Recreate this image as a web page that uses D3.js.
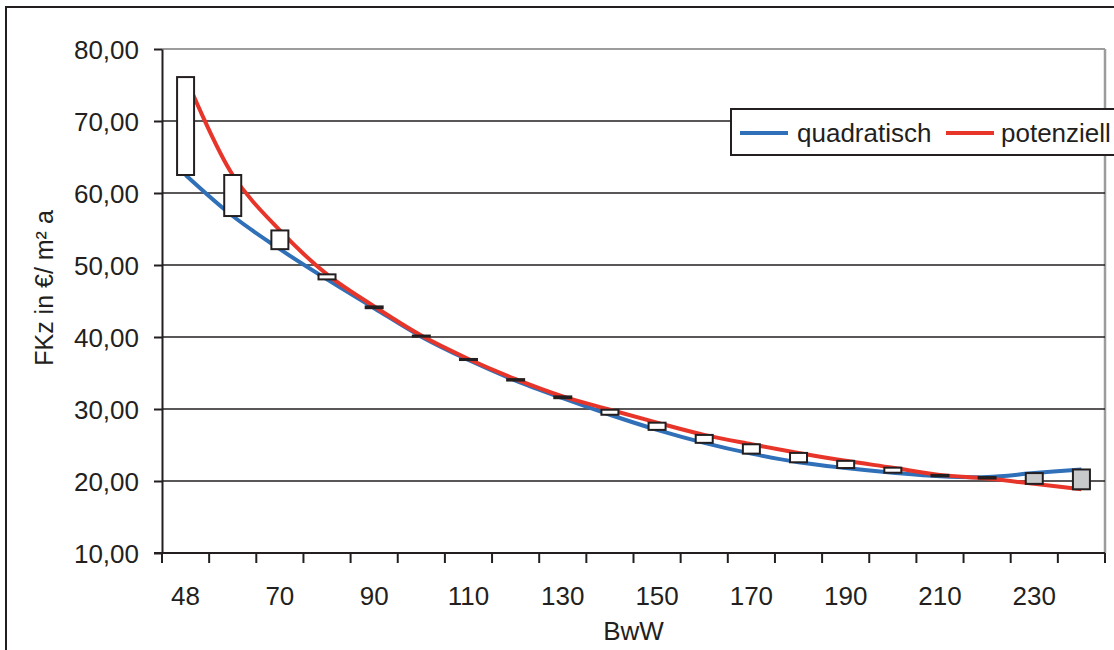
<!DOCTYPE html>
<html>
<head>
<meta charset="utf-8">
<script src="https://cdn.jsdelivr.net/npm/d3@7"></script>
<style>
  html, body { margin: 0; padding: 0; background: #fff; }
  svg { display: block; font-family: "Liberation Sans", Arial, sans-serif; }
</style>
</head>
<body>
<svg id="chart" width="1114" height="650"></svg>
<script>
// Baualterswert-Kategorien (BwW) auf der Kategorienachse
const categories = [48, 60, 70, 80, 90, 100, 110, 120, 130, 140, 150, 160, 170, 180, 190, 200, 210, 220, 230, 240];
// Ausgleichswerte je Kategorie: quadratischer Ansatz
const quadratisch = [62.5, 56.8, 52.2, 48.0, 44.0, 40.05, 36.8, 33.95, 31.5, 29.2, 27.1, 25.3, 23.8, 22.6, 21.8, 21.15, 20.65, 20.55, 21.1, 21.6];
// Ausgleichswerte je Kategorie: Potenzansatz
const potenziell = [76.1, 62.5, 54.8, 48.7, 44.25, 40.2, 36.95, 34.15, 31.75, 29.9, 28.1, 26.4, 25.1, 23.9, 22.8, 21.85, 20.85, 20.35, 19.6, 18.85];
// Achsenbeschriftungen
const yTicks = [10, 20, 30, 40, 50, 60, 70, 80];
const xTickLabels = [48, 70, 90, 110, 130, 150, 170, 190, 210, 230];
const seriesNames = ["quadratisch", "potenziell"];

const ink = "#231f20";
const blue = "#2f70b8";
const red = "#e8352a";
const frameGray = "#9c9c9c";

const svg = d3.select("#chart");
const plot = { left: 162, right: 1105, top: 49, bottom: 553 };

const locale = d3.formatLocale({ decimal: ",", thousands: ".", grouping: [3], currency: ["", " €"] });
const fmt = locale.format(".2f");

const x = d3.scaleBand().domain(categories).range([plot.left, plot.right]).padding(0);
const y = d3.scaleLinear().domain([10, 80]).range([plot.bottom, plot.top]);
const cx = d => x(d) + x.bandwidth() / 2;

// äußerer Diagrammrahmen
svg.append("rect")
  .attr("x", 6).attr("y", 7).attr("width", 1300).attr("height", 1000)
  .attr("fill", "none").attr("stroke", ink).attr("stroke-width", 2);

// Zeichnungsfläche: Rahmen oben und rechts
svg.append("line").attr("x1", plot.left).attr("x2", plot.right)
  .attr("y1", plot.top).attr("y2", plot.top)
  .attr("stroke", frameGray).attr("stroke-width", 2);
svg.append("line").attr("x1", plot.right).attr("x2", plot.right)
  .attr("y1", plot.top).attr("y2", plot.bottom)
  .attr("stroke", frameGray).attr("stroke-width", 2.5);

// horizontale Gitternetzlinien
svg.append("g").selectAll("line")
  .data(yTicks.filter(v => v > 10 && v < 80))
  .join("line")
  .attr("x1", plot.left).attr("x2", plot.right)
  .attr("y1", d => y(d)).attr("y2", d => y(d))
  .attr("stroke", ink).attr("stroke-width", 1.6);

// Y-Achse
const yAxis = d3.axisLeft(y).tickValues(yTicks).tickFormat(fmt).tickSizeInner(8).tickSizeOuter(0).tickPadding(15);
const gy = svg.append("g").attr("transform", `translate(${plot.left},0)`).call(yAxis);
gy.select(".domain").attr("stroke", ink).attr("stroke-width", 2);
gy.selectAll(".tick line").attr("stroke", ink).attr("stroke-width", 2);
gy.selectAll(".tick text").attr("fill", ink).attr("font-size", 26)
  .attr("font-family", "Liberation Sans, Arial, sans-serif").attr("dy", "0.36em");

// X-Achse: Teilstriche zwischen den Kategorien, Beschriftung jede zweite Kategorie
svg.append("line").attr("x1", plot.left - 8).attr("x2", plot.right)
  .attr("y1", plot.bottom).attr("y2", plot.bottom)
  .attr("stroke", ink).attr("stroke-width", 2);
const boundaries = categories.map(c => x(c)).concat([plot.right]);
svg.append("g").selectAll("line").data(boundaries).join("line")
  .attr("x1", d => d).attr("x2", d => d)
  .attr("y1", plot.bottom).attr("y2", plot.bottom + 10)
  .attr("stroke", ink).attr("stroke-width", 2);
svg.append("g").selectAll("text").data(xTickLabels).join("text")
  .attr("x", d => cx(d)).attr("y", 605)
  .attr("text-anchor", "middle").attr("font-size", 26).attr("fill", ink)
  .text(d => d);

// Achsentitel
svg.append("text").attr("x", (plot.left + plot.right) / 2).attr("y", 640)
  .attr("text-anchor", "middle").attr("font-size", 26).attr("fill", ink).text("BwW");
svg.append("text").attr("transform", "translate(53,288) rotate(-90)")
  .attr("text-anchor", "middle").attr("font-size", 25).attr("fill", ink).text("FKz in €/ m² a");

// geglättete Linien der beiden Ansätze
const line = d3.line().x((d, i) => cx(categories[i])).y(d => y(d)).curve(d3.curveCatmullRom.alpha(0.5));
svg.append("path").datum(quadratisch).attr("d", line)
  .attr("fill", "none").attr("stroke", blue).attr("stroke-width", 4);
svg.append("path").datum(potenziell).attr("d", line)
  .attr("fill", "none").attr("stroke", red).attr("stroke-width", 4);

// Differenzbalken zwischen beiden Ansätzen (weiß: potenziell höher, grau: niedriger)
const boxW = 17;
svg.append("g").selectAll("rect").data(categories).join("rect")
  .attr("x", d => cx(d) - boxW / 2)
  .attr("y", (d, i) => y(Math.max(quadratisch[i], potenziell[i])))
  .attr("width", boxW)
  .attr("height", (d, i) => Math.max(0.5, Math.abs(y(quadratisch[i]) - y(potenziell[i]))))
  .attr("fill", (d, i) => potenziell[i] >= quadratisch[i] ? "#ffffff" : "#c8c9cb")
  .attr("stroke", ink).attr("stroke-width", 2);

// Legende
const lg = svg.append("g");
lg.append("rect").attr("x", 731).attr("y", 109).attr("width", 420).attr("height", 46)
  .attr("fill", "#fff").attr("stroke", ink).attr("stroke-width", 2);
const legendItems = [
  { name: seriesNames[0], color: blue, x0: 740, tx: 797 },
  { name: seriesNames[1], color: red, x0: 946, tx: 1001 }
];
legendItems.forEach(it => {
  lg.append("line").attr("x1", it.x0).attr("x2", it.x0 + 48).attr("y1", 133).attr("y2", 133)
    .attr("stroke", it.color).attr("stroke-width", 4);
  lg.append("text").attr("x", it.tx).attr("y", 142).attr("font-size", 26).attr("fill", ink).text(it.name);
});
</script>
</body>
</html>
